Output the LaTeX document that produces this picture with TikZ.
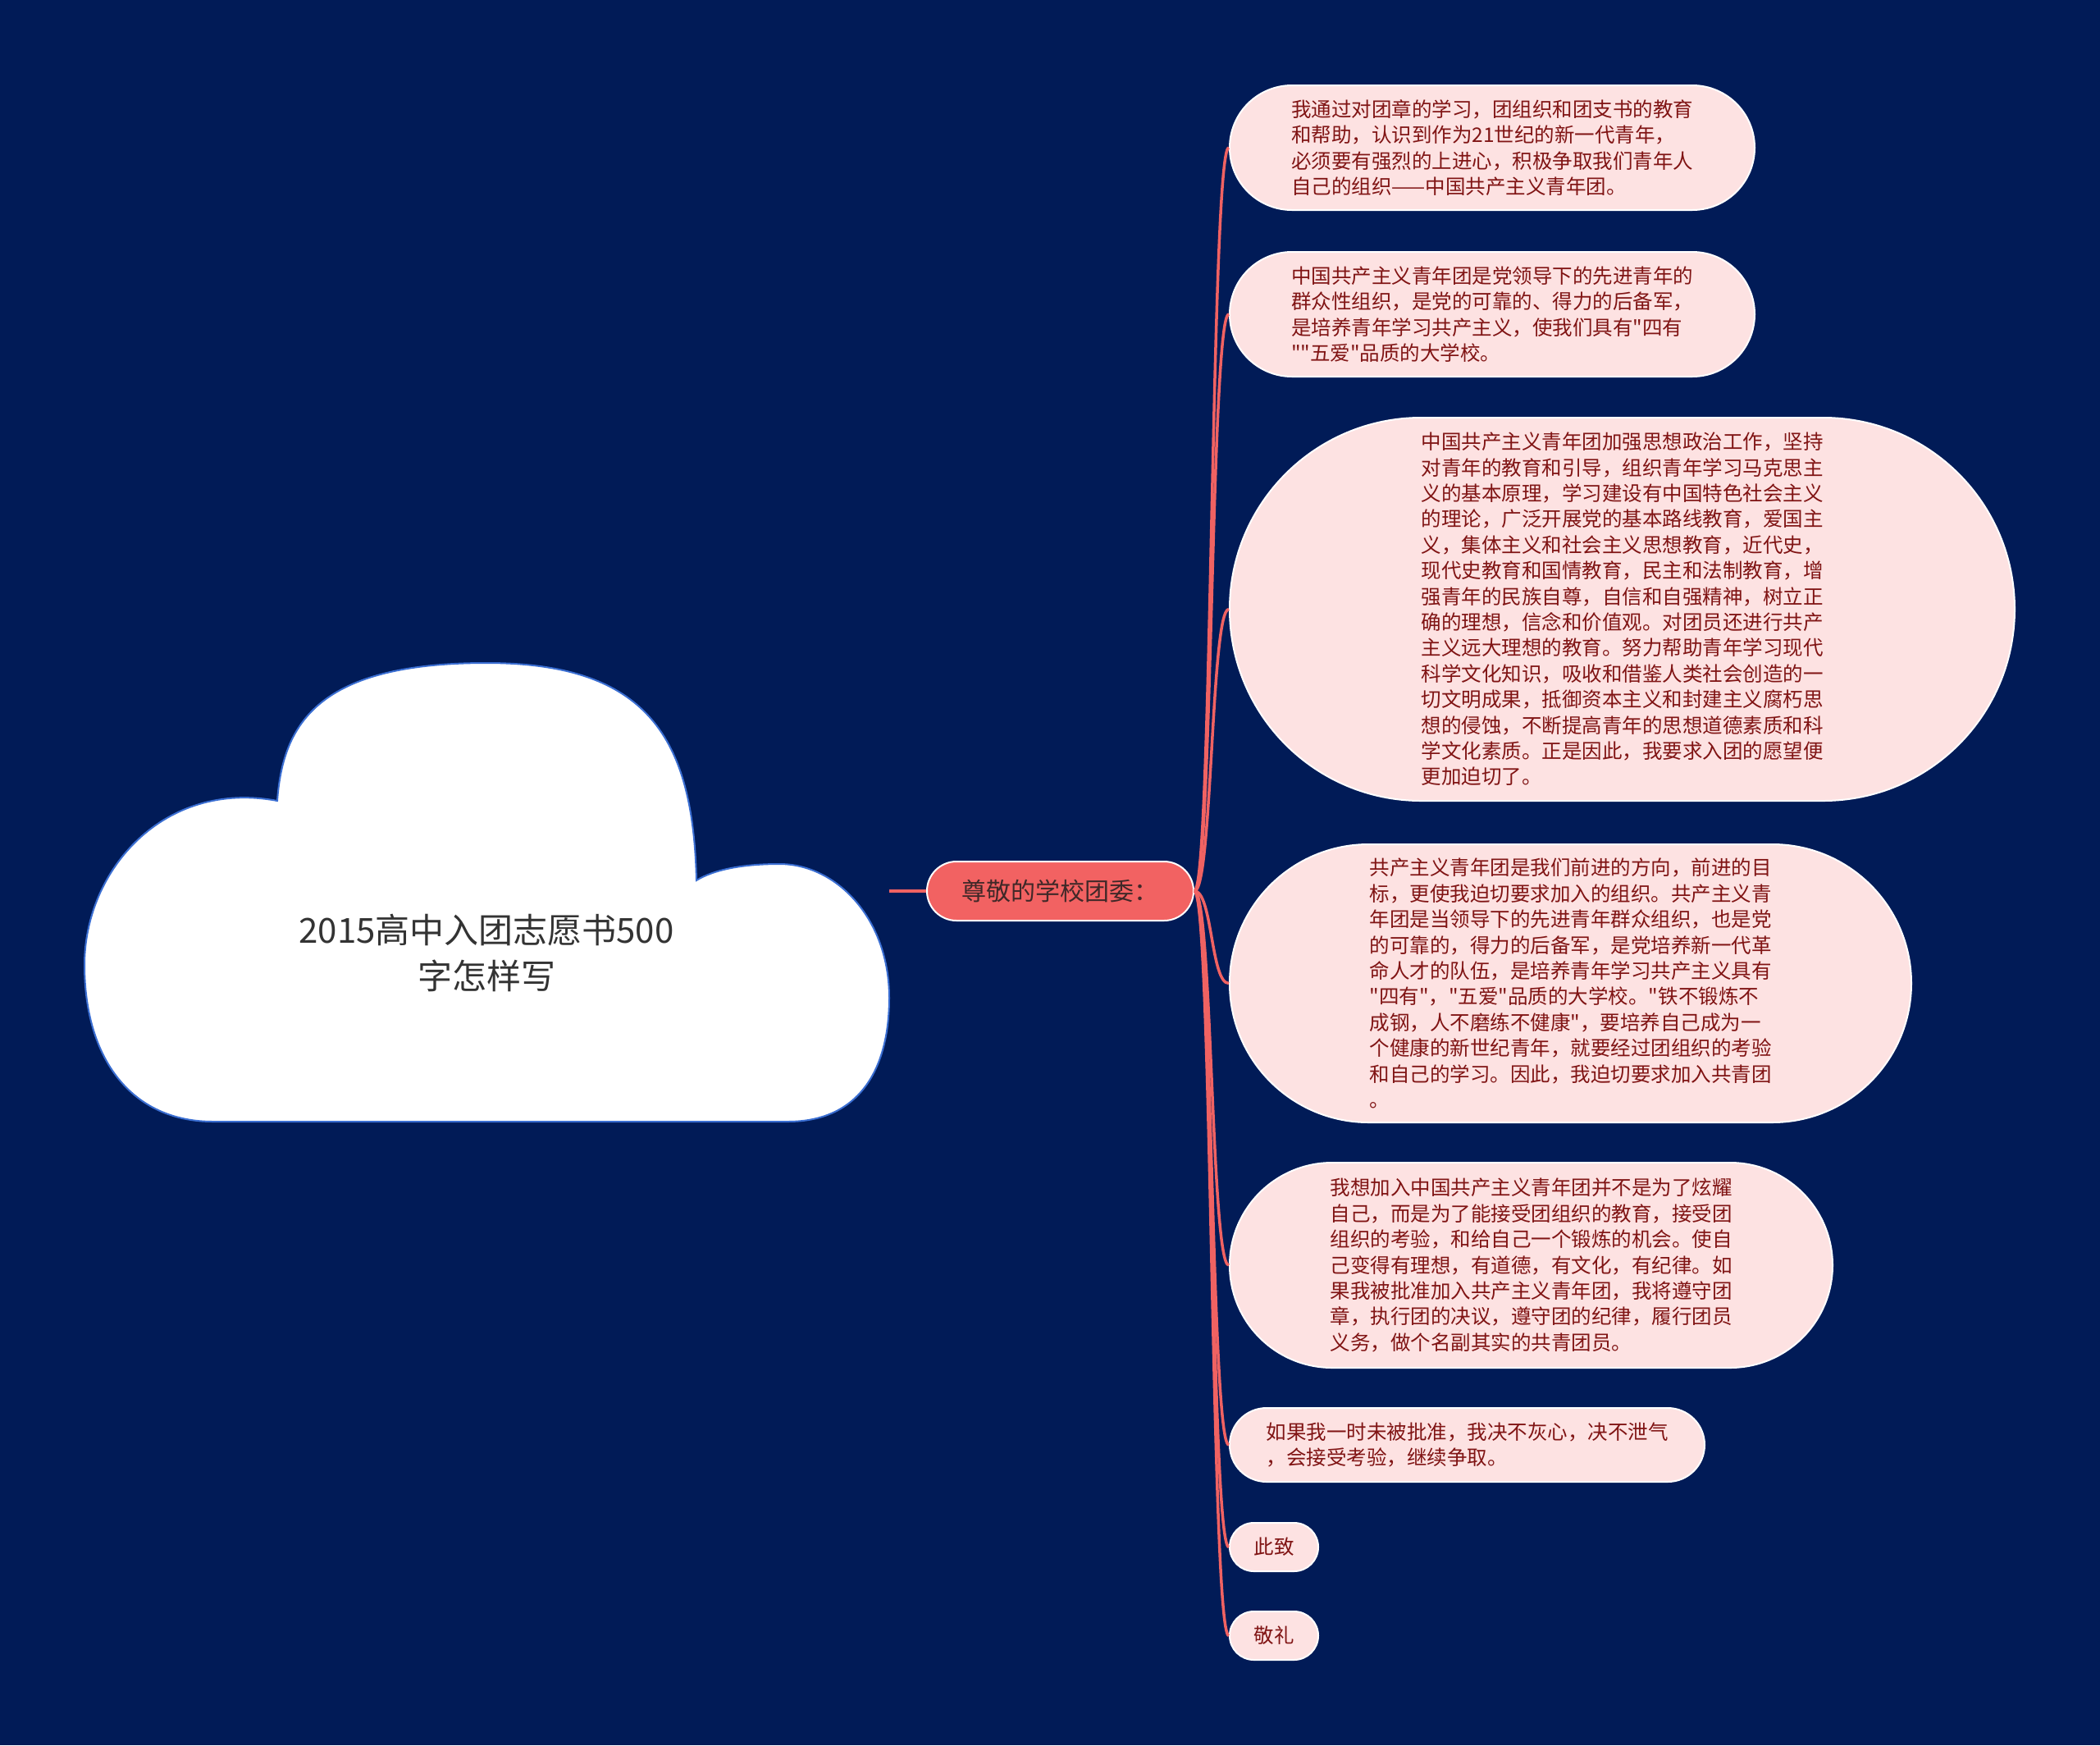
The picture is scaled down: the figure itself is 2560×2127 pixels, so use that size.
\documentclass[tikz,border=0pt]{standalone}
\usepackage{fontspec}
\setmainfont{Noto Sans CJK SC}[Ligatures=TeXOff]
\definecolor{bgc}{RGB}{1,27,87}
\definecolor{linkc}{RGB}{240,98,98}
\definecolor{hubc}{RGB}{242,98,98}
\definecolor{leafc}{RGB}{253,226,226}
\definecolor{leaftxt}{RGB}{128,20,20}
\definecolor{hubtxt}{RGB}{64,40,40}
\definecolor{cloudline}{RGB}{58,110,210}
\definecolor{titletxt}{RGB}{51,51,51}
\begin{document}
\begin{tikzpicture}[x=0.5pt,y=-0.5pt,
  leaf/.style={draw=white, line width=1pt, fill=leafc, text=leaftxt, align=left,
    inner sep=0pt, font=\fontsize{12.25pt}{15.7pt}\selectfont},
  hub/.style={draw=white, line width=1pt, fill=hubc, text=hubtxt, inner sep=0pt,
    minimum width=162.5pt, minimum height=36pt, rounded corners=18pt,
    font=\fontsize{15pt}{18pt}\selectfont},
  conn/.style={draw=linkc, line width=1.75pt},
  cloudshape/.style={fill=white, draw=cloudline, line width=1pt},
  title/.style={font=\fontsize{21pt}{28pt}\selectfont, text=titletxt, align=center}
]
\useasboundingbox (0,0) rectangle (2560,2127);
\fill[bgc] (0,0) rectangle (2560,2127);

% cloud
\path[cloudshape] (260,1367) -- (960,1367)
  .. controls (1050,1367) and (1084,1300) .. (1084,1216)
  .. controls (1084,1120) and (1020,1053) .. (950,1053)
  .. controls (905,1053) and (870,1060) .. (849,1073)
  .. controls (845,900) and (790,808) .. (593,808)
  .. controls (390,808) and (345,880) .. (338,976)
  .. controls (200,950) and (103,1060) .. (103,1176)
  .. controls (103,1290) and (160,1367) .. (260,1367) -- cycle;
\node[title] (root) at (593,1161) {2015高中入团志愿书500\\字怎样写};
\coordinate (cloudR) at (1084,1086);

% hub
\node[hub] (hub) at (1292.5,1086) {尊敬的学校团委：};

% leaves
\node[leaf, minimum width=320pt, minimum height=76pt, rounded corners=38pt] (c1) at (1819,180)
 {我通过对团章的学习，团组织和团支书的教育\\和帮助，认识到作为21世纪的新一代青年，\\必须要有强烈的上进心，积极争取我们青年人\\自己的组织——中国共产主义青年团。};
\node[leaf, minimum width=320pt, minimum height=76pt, rounded corners=38pt] (c2) at (1819,383)
 {中国共产主义青年团是党领导下的先进青年的\\群众性组织，是党的可靠的、得力的后备军，\\是培养青年学习共产主义，使我们具有"四有\\""五爱"品质的大学校。};
\node[leaf, minimum width=478.5pt, minimum height=233.5pt, rounded corners=116.75pt] (c3) at (1977.5,742.5)
 {中国共产主义青年团加强思想政治工作，坚持\\
对青年的教育和引导，组织青年学习马克思主\\
义的基本原理，学习建设有中国特色社会主义\\
的理论，广泛开展党的基本路线教育，爱国主\\
义，集体主义和社会主义思想教育，近代史，\\
现代史教育和国情教育，民主和法制教育，增\\
强青年的民族自尊，自信和自强精神，树立正\\
确的理想，信念和价值观。对团员还进行共产\\
主义远大理想的教育。努力帮助青年学习现代\\
科学文化知识，吸收和借鉴人类社会创造的一\\
切文明成果，抵御资本主义和封建主义腐朽思\\
想的侵蚀，不断提高青年的思想道德素质和科\\
学文化素质。正是因此，我要求入团的愿望便\\
更加迫切了。};
\node[leaf, minimum width=415.5pt, minimum height=169.5pt, rounded corners=84.75pt] (c4) at (1914.5,1198.5)
 {共产主义青年团是我们前进的方向，前进的目\\
标，更使我迫切要求加入的组织。共产主义青\\
年团是当领导下的先进青年群众组织，也是党\\
的可靠的，得力的后备军，是党培养新一代革\\
命人才的队伍，是培养青年学习共产主义具有\\
"四有"，"五爱"品质的大学校。"铁不锻炼不\\
成钢，人不磨练不健康"，要培养自己成为一\\
个健康的新世纪青年，就要经过团组织的考验\\
和自己的学习。因此，我迫切要求加入共青团\\
。};
\node[leaf, minimum width=367.5pt, minimum height=125pt, rounded corners=62.5pt] (c5) at (1866.5,1542)
 {我想加入中国共产主义青年团并不是为了炫耀\\
自己，而是为了能接受团组织的教育，接受团\\
组织的考验，和给自己一个锻炼的机会。使自\\
己变得有理想，有道德，有文化，有纪律。如\\
果我被批准加入共产主义青年团，我将遵守团\\
章，执行团的决议，遵守团的纪律，履行团员\\
义务，做个名副其实的共青团员。};
\node[leaf, minimum width=289.5pt, minimum height=45pt, rounded corners=22.5pt] (c6) at (1788.5,1761)
 {如果我一时未被批准，我决不灰心，决不泄气\\，会接受考验，继续争取。};
\node[leaf, minimum width=54pt, minimum height=29.5pt, rounded corners=14.75pt] (c7) at (1553,1885.5) {此致};
\node[leaf, minimum width=54pt, minimum height=29.5pt, rounded corners=14.75pt] (c8) at (1553,1993.5) {敬礼};

% connectors
\draw[conn, line width=2pt] (cloudR) -- (hub.west);
\foreach \c in {c1,c2,c3,c4,c5,c6,c7,c8}
  \draw[conn] (hub.east) .. controls +(22,0) and +(-22,0) .. (\c.west);
\end{tikzpicture}
\end{document}
